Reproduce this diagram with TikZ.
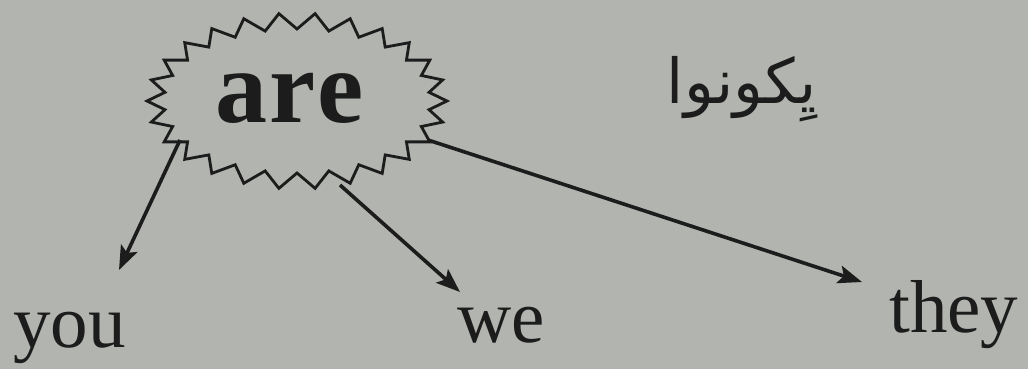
\documentclass[tikz,border=0pt]{standalone}
\usepackage{fontspec}
\setmainfont{Liberation Serif}
\newfontfamily\arabicfont[Script=Arabic]{DejaVu Sans}
\TeXXeTstate=1
\usetikzlibrary{arrows.meta}
\definecolor{bg}{RGB}{178,180,175}
\definecolor{ink}{RGB}{28,28,28}
\tikzset{
  burst/.style={draw=ink, line width=2.8pt, line join=miter},
  arr/.style={draw=ink, line width=3.6pt, -{Stealth[length=24pt,width=18pt,inset=5pt]}},
  word/.style={inner sep=0pt, anchor=base west, text=ink, font=\fontsize{75}{80}\selectfont},
}
\begin{document}
\begin{tikzpicture}[x=1pt,y=-1pt]
\fill[bg] (0,0) rectangle (1028,369);
\useasboundingbox (0,0) rectangle (1028,369);
% starburst
\draw[burst,shift={(297,101)}] (0:150 and 88)
  \foreach \i in {1,...,51} { -- ({\i*(360/52)}:{150-17*mod(\i,2)} and {88-16*mod(\i,2)}) } -- cycle;
\node[inner sep=0pt, anchor=base west, text=ink, font=\fontsize{104}{110}\selectfont\bfseries] (are) at (215,122) {a\kern2pt r\kern2pt e};
\node[inner sep=0pt, anchor=base, text=ink, font=\arabicfont\fontsize{62}{66}\selectfont] (ar) at (742,103) {\beginR يِكونوا\endR};
\node[word] (you) at (13,347) {you};
\node[word] (we) at (457,342) {we};
\node[word] (they) at (889,332) {they};
\coordinate (sY) at (180,140);
\coordinate (sW) at (340,185);
\coordinate (sT) at (428,140);
\coordinate (tY) at (119,270);
\coordinate (tW) at (460,292);
\coordinate (tT) at (862,282);
\draw[arr] (sY) -- (tY);
\draw[arr] (sW) -- (tW);
\draw[arr] (sT) -- (tT);
\end{tikzpicture}
\end{document}
